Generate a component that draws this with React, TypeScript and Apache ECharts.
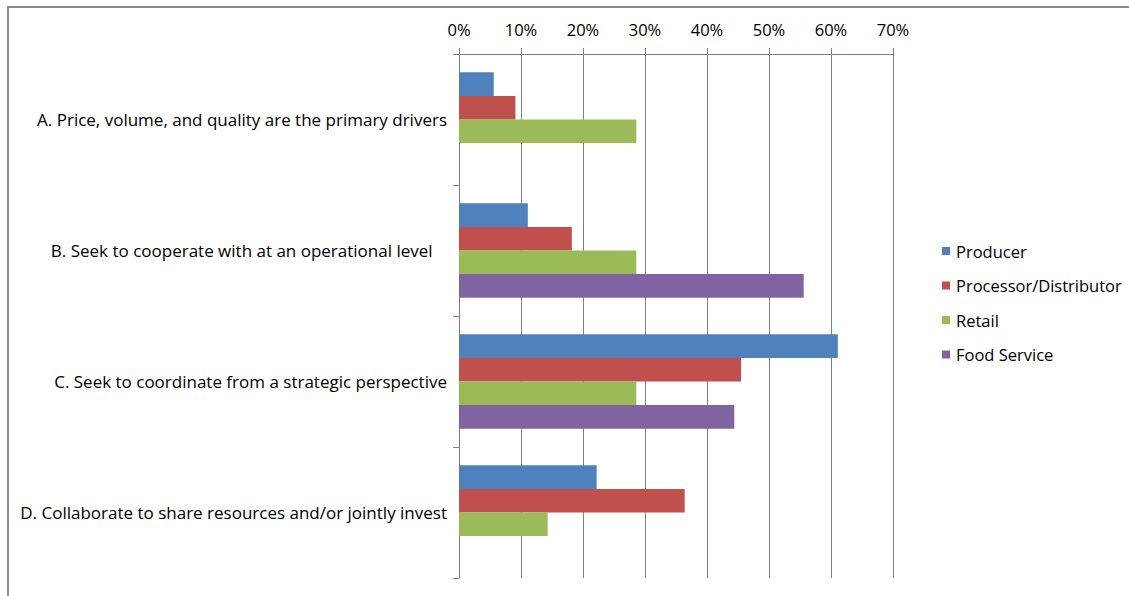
import React, { useEffect, useRef } from "react";
import * as echarts from "echarts";

const categories = [
  "A. Price, volume, and quality are the primary drivers",
  "B. Seek to cooperate with at an operational level ",
  "C. Seek to coordinate from a strategic perspective",
  "D. Collaborate to share resources and/or jointly invest",
];
const seriesNames = ["Producer", "Processor/Distributor", "Retail", "Food Service"];
const producer = [5.6, 11.1, 61.1, 22.2];
const processor = [9.1, 18.2, 45.5, 36.4];
const retail = [28.6, 28.6, 28.6, 14.3];
const foodService = [0, 55.6, 44.4, 0];
const colors = ["#4F81BD", "#C0504D", "#9BBB59", "#8064A2"];
const FONT = "Open Sans";

export default function App() {
  const ref = useRef<HTMLDivElement>(null);
  useEffect(() => {
    const chart = echarts.init(ref.current!, undefined, { renderer: "svg" });
    const values = [producer, processor, retail, foodService];
    chart.setOption({
      animation: false,
      backgroundColor: "#ffffff",
      textStyle: { fontFamily: FONT },
      grid: { left: 459, top: 54, right: 236, bottom: 18, containLabel: false },
      legend: {
        orient: "vertical",
        left: 937,
        top: 237,
        itemWidth: 8,
        itemHeight: 8,
        itemGap: 16.5,
        icon: "rect",
        selectedMode: false,
        textStyle: { fontFamily: FONT, fontSize: 16.5, color: "#000", lineHeight: 18, padding: [0, 0, 0, 1] },
        data: seriesNames,
      },
      xAxis: {
        type: "value",
        position: "top",
        min: 0,
        max: 70,
        interval: 10,
        axisLine: { show: true, lineStyle: { color: "#808080", width: 1 } },
        axisTick: { show: true, length: 6, lineStyle: { color: "#808080" } },
        axisLabel: {
          formatter: (v: number) => v + "%",
          fontFamily: FONT,
          fontSize: 16.5,
          color: "#000",
          margin: 16,
        },
        splitLine: { show: true, lineStyle: { color: "#808080", width: 1 } },
      },
      yAxis: {
        type: "category",
        inverse: true,
        data: categories,
        axisLine: { show: true, lineStyle: { color: "#808080", width: 1 } },
        axisTick: { show: true, length: 6, lineStyle: { color: "#808080" } },
        axisLabel: {
          fontFamily: FONT,
          fontSize: 17,
          color: "#000",
          margin: 12,
          formatter: (v: string) => (/\s$/.test(v) ? `{pad|${v}}` : v),
          rich: {
            pad: { fontFamily: FONT, fontSize: 17, color: "#000", padding: [0, 10, 0, 0] },
          },
        },
        splitLine: { show: false },
      },
      series: seriesNames.map((name, i) => ({
        name,
        type: "bar",
        data: values[i],
        barGap: "0%",
        barCategoryGap: "28%",
        itemStyle: { color: colors[i] },
      })),
      graphic: [
        { type: "line", shape: { x1: 7, y1: 7, x2: 1129, y2: 7 }, style: { stroke: "#8a8a8a", lineWidth: 2 } },
        { type: "line", shape: { x1: 8, y1: 6, x2: 8, y2: 596 }, style: { stroke: "#8a8a8a", lineWidth: 2 } },
      ],
    });
    return () => chart.dispose();
  }, []);
  return (
    <div
      ref={ref}
      style={{ position: "fixed", left: 0, top: 0, width: 1129, height: 596 }}
    />
  );
}
